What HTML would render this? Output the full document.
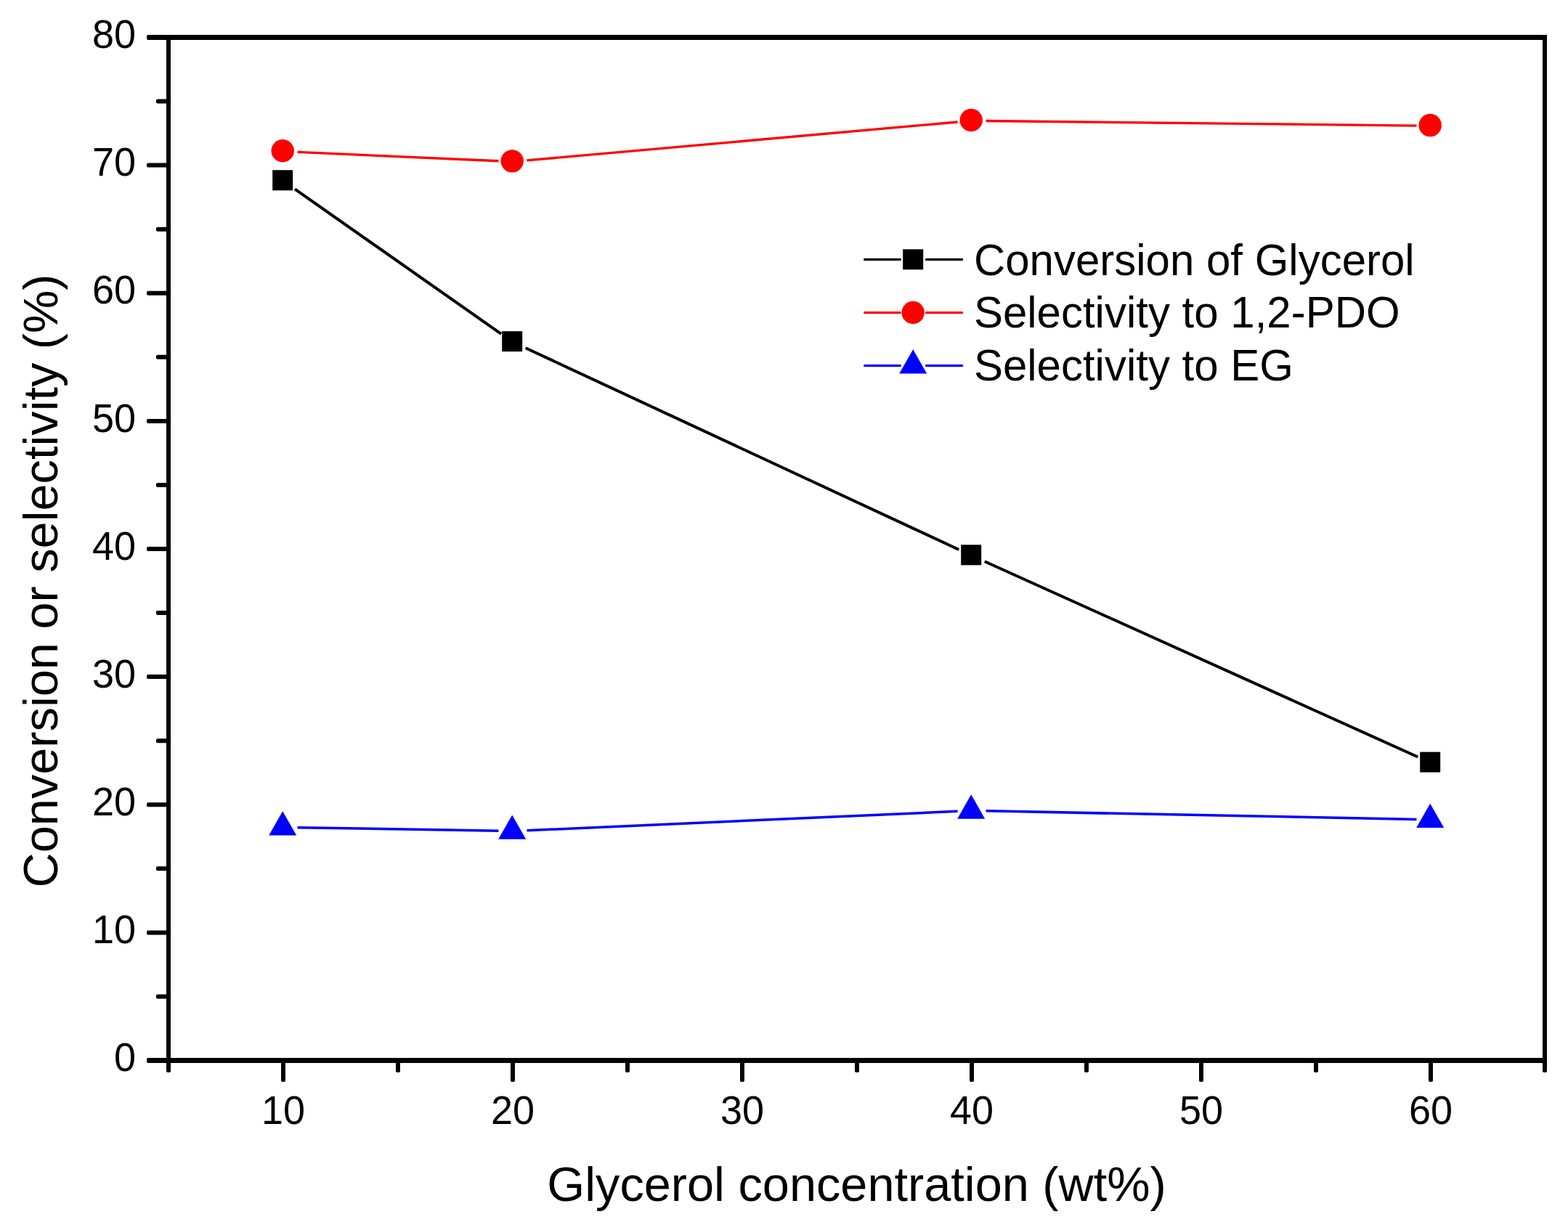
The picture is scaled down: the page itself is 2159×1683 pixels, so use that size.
<!DOCTYPE html>
<html lang="en">
<head>
<meta charset="utf-8">
<title>Conversion or selectivity vs glycerol concentration</title>
<style>
html,body{margin:0;padding:0;background:#fff;}
body{width:2159px;height:1683px;overflow:hidden;}
svg{display:block;}
text{font-family:"Liberation Sans", sans-serif;fill:#000;}
.tick{font-size:54.0px;}
.title{font-size:66.7px;}
.leg{font-size:60.0px;}
</style>
</head>
<body>
<svg width="2159" height="1683" viewBox="0 0 2159 1683">
<rect x="0" y="0" width="2159" height="1683" fill="#ffffff"/>
<g id="frame" fill="#000">
<rect x="229.0" y="48.0" width="1901.0" height="7.0"/>
<rect x="229.0" y="1457.0" width="1901.0" height="7.0"/>
<rect x="229.0" y="48.0" width="6.0" height="1416.0"/>
<rect x="2124.0" y="48.0" width="6.0" height="1416.0"/>
</g>
<g id="ticks" fill="#000">
<rect x="202.0" y="1457.00" width="30.0" height="7.0" rx="2.0" ry="2.0"/>
<rect x="215.0" y="1369.44" width="17.0" height="6.0" rx="2.0" ry="2.0"/>
<rect x="202.0" y="1281.38" width="30.0" height="6.0" rx="2.0" ry="2.0"/>
<rect x="215.0" y="1193.31" width="17.0" height="6.0" rx="2.0" ry="2.0"/>
<rect x="202.0" y="1105.25" width="30.0" height="6.0" rx="2.0" ry="2.0"/>
<rect x="215.0" y="1017.19" width="17.0" height="6.0" rx="2.0" ry="2.0"/>
<rect x="202.0" y="929.12" width="30.0" height="6.0" rx="2.0" ry="2.0"/>
<rect x="215.0" y="841.06" width="17.0" height="6.0" rx="2.0" ry="2.0"/>
<rect x="202.0" y="753.00" width="30.0" height="6.0" rx="2.0" ry="2.0"/>
<rect x="215.0" y="664.94" width="17.0" height="6.0" rx="2.0" ry="2.0"/>
<rect x="202.0" y="576.88" width="30.0" height="6.0" rx="2.0" ry="2.0"/>
<rect x="215.0" y="488.81" width="17.0" height="6.0" rx="2.0" ry="2.0"/>
<rect x="202.0" y="400.75" width="30.0" height="6.0" rx="2.0" ry="2.0"/>
<rect x="215.0" y="312.69" width="17.0" height="6.0" rx="2.0" ry="2.0"/>
<rect x="202.0" y="224.62" width="30.0" height="6.0" rx="2.0" ry="2.0"/>
<rect x="215.0" y="136.56" width="17.0" height="6.0" rx="2.0" ry="2.0"/>
<rect x="202.0" y="48.00" width="30.0" height="7.0" rx="2.0" ry="2.0"/>
<rect x="229.00" y="1460.5" width="6.0" height="16.5" rx="2.0" ry="2.0"/>
<rect x="387.00" y="1460.5" width="6.0" height="29.5" rx="2.0" ry="2.0"/>
<rect x="545.00" y="1460.5" width="6.0" height="16.5" rx="2.0" ry="2.0"/>
<rect x="703.00" y="1460.5" width="6.0" height="29.5" rx="2.0" ry="2.0"/>
<rect x="861.00" y="1460.5" width="6.0" height="16.5" rx="2.0" ry="2.0"/>
<rect x="1019.00" y="1460.5" width="6.0" height="29.5" rx="2.0" ry="2.0"/>
<rect x="1177.00" y="1460.5" width="6.0" height="16.5" rx="2.0" ry="2.0"/>
<rect x="1335.00" y="1460.5" width="6.0" height="29.5" rx="2.0" ry="2.0"/>
<rect x="1493.00" y="1460.5" width="6.0" height="16.5" rx="2.0" ry="2.0"/>
<rect x="1651.00" y="1460.5" width="6.0" height="29.5" rx="2.0" ry="2.0"/>
<rect x="1809.00" y="1460.5" width="6.0" height="16.5" rx="2.0" ry="2.0"/>
<rect x="1967.00" y="1460.5" width="6.0" height="29.5" rx="2.0" ry="2.0"/>
<rect x="2124.00" y="1460.5" width="6.0" height="16.5" rx="2.0" ry="2.0"/>
</g>
<g id="ylabels">
<text class="tick" transform="translate(187.10 1475.20) scale(1 1.035)" text-anchor="end">0</text>
<text class="tick" transform="translate(187.10 1299.08) scale(1 1.035)" text-anchor="end">10</text>
<text class="tick" transform="translate(187.10 1122.95) scale(1 1.035)" text-anchor="end">20</text>
<text class="tick" transform="translate(187.10 946.83) scale(1 1.035)" text-anchor="end">30</text>
<text class="tick" transform="translate(187.10 770.70) scale(1 1.035)" text-anchor="end">40</text>
<text class="tick" transform="translate(187.10 594.58) scale(1 1.035)" text-anchor="end">50</text>
<text class="tick" transform="translate(187.10 418.45) scale(1 1.035)" text-anchor="end">60</text>
<text class="tick" transform="translate(187.10 242.32) scale(1 1.035)" text-anchor="end">70</text>
<text class="tick" transform="translate(187.10 66.20) scale(1 1.035)" text-anchor="end">80</text>
</g>
<g id="xlabels">
<text class="tick" transform="translate(390.00 1547.60) scale(1 1.035)" text-anchor="middle">10</text>
<text class="tick" transform="translate(706.00 1547.60) scale(1 1.035)" text-anchor="middle">20</text>
<text class="tick" transform="translate(1022.00 1547.60) scale(1 1.035)" text-anchor="middle">30</text>
<text class="tick" transform="translate(1338.00 1547.60) scale(1 1.035)" text-anchor="middle">40</text>
<text class="tick" transform="translate(1654.00 1547.60) scale(1 1.035)" text-anchor="middle">50</text>
<text class="tick" transform="translate(1970.00 1547.60) scale(1 1.035)" text-anchor="middle">60</text>
</g>
<text class="title" transform="translate(753.35 1654.20) scale(1 1.0)" text-anchor="start">Glycerol concentration (wt%)</text>
<text class="title" transform="translate(79.40 1222.40) rotate(-90) scale(1 1.0)" text-anchor="start">Conversion or selectivity (%)</text>
<g fill="none" stroke="#000000" stroke-width="4.0" stroke-linecap="butt" transform="translate(0 0.4)">
<path d="M405.96 259.97 L690.04 459.47"/>
<path d="M723.68 478.91 L1320.32 756.58"/>
<path d="M1355.77 772.83 L1952.23 1042.11"/>
</g>
<g fill="none" stroke="#ff0000" stroke-width="3.3" stroke-linecap="butt" transform="translate(0 0.3)">
<path d="M409.48 209.12 L686.52 221.47"/>
<path d="M725.42 220.61 L1318.58 167.71"/>
<path d="M1357.50 166.20 L1950.50 172.81"/>
</g>
<g fill="none" stroke="#0000ff" stroke-width="3.5" stroke-linecap="butt" transform="translate(0 -0.6)">
<path d="M409.50 1140.28 L686.50 1144.91"/>
<path d="M725.48 1144.37 L1318.52 1117.92"/>
<path d="M1357.50 1117.44 L1950.50 1129.00"/>
</g>
<g>
<rect x="375.20" y="234.26" width="28.0" height="28.0" fill="#000000"/>
<rect x="691.20" y="456.18" width="28.0" height="28.0" fill="#000000"/>
<rect x="1323.20" y="750.31" width="28.0" height="28.0" fill="#000000"/>
<rect x="1955.20" y="1035.63" width="28.0" height="28.0" fill="#000000"/>
</g>
<g>
<circle cx="389.20" cy="207.75" r="15.7" fill="#ff0000"/>
<circle cx="705.20" cy="221.84" r="15.7" fill="#ff0000"/>
<circle cx="1337.20" cy="165.48" r="15.7" fill="#ff0000"/>
<circle cx="1969.20" cy="172.53" r="15.7" fill="#ff0000"/>
</g>
<g>
<path d="M389.20 1117.25 L408.20 1150.55 H370.20 Z" fill="#0000ff"/>
<path d="M705.20 1122.54 L724.20 1155.84 H686.20 Z" fill="#0000ff"/>
<path d="M1337.20 1094.36 L1356.20 1127.66 H1318.20 Z" fill="#0000ff"/>
<path d="M1969.20 1106.68 L1988.20 1139.98 H1950.20 Z" fill="#0000ff"/>
</g>
<g id="legend">
<path d="M1190.6000000000001 357.4 H1239.5 M1275.4 357.4 H1324.6999999999998" stroke="#000000" stroke-width="3.2" fill="none" stroke-linecap="round"/>
<rect x="1243.20" y="343.30" width="28.0" height="28.0" fill="#000000"/>
<text class="leg" transform="translate(1340.90 379.00) scale(1 1.015)" text-anchor="start">Conversion of Glycerol</text>
<path d="M1190.6000000000001 430.6 H1239.5 M1275.4 430.6 H1324.6999999999998" stroke="#ff0000" stroke-width="3.2" fill="none" stroke-linecap="round"/>
<circle cx="1257.20" cy="430.50" r="15.7" fill="#ff0000"/>
<text class="leg" transform="translate(1340.90 451.00) scale(1 1.015)" text-anchor="start">Selectivity to 1,2-PDO</text>
<path d="M1190.6000000000001 503.6 H1239.5 M1275.4 503.6 H1324.6999999999998" stroke="#0000ff" stroke-width="3.2" fill="none" stroke-linecap="round"/>
<path d="M1257.20 481.30 L1276.20 514.60 H1238.20 Z" fill="#0000ff"/>
<text class="leg" transform="translate(1340.90 524.00) scale(1 1.015)" text-anchor="start">Selectivity to EG</text>
</g>
</svg>
</body>
</html>
